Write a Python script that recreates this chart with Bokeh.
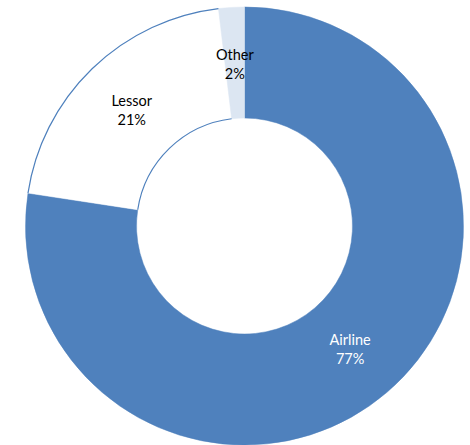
import math
from bokeh.plotting import figure
from bokeh.models import Range1d, ColumnDataSource
from bokeh.core.properties import value
from bokeh.embed import file_html
from bokeh.resources import INLINE

categories = ["Airline", "Lessor", "Other"]
shares = [77.4, 20.7, 1.9]
fill_colors = ["#4F81BD", "#FFFFFF", "#DCE6F2"]
text_colors = ["#FFFFFF", "#000000", "#000000"]

W, H = 470, 445
p = figure(width=W, height=H, output_backend="svg", toolbar_location=None,
           x_range=Range1d(0, W), y_range=Range1d(-H, 0),
           min_border=0, match_aspect=False)
p.axis.visible = False
p.grid.visible = False
p.outline_line_color = None
p.background_fill_color = "white"
p.border_fill_color = "white"

cx, cy = 244, -225.5
r_out, r_in = 219, 108

total = sum(shares)
starts, ends, mids = [], [], []
acc = 0.0
for s in shares:
    a0 = math.pi / 2 - 2 * math.pi * acc / total
    acc += s
    a1 = math.pi / 2 - 2 * math.pi * acc / total
    starts.append(a0)
    ends.append(a1)
    mids.append((a0 + a1) / 2)

src = ColumnDataSource(dict(start=starts, end=ends, color=fill_colors))
p.annular_wedge(x=cx, y=cy, inner_radius=r_in, outer_radius=r_out,
                start_angle="start", end_angle="end", direction="clock",
                fill_color="color", line_color="color", line_width=0.5, source=src)

# blue outline on the Lessor slice arcs
i = 1
for rr in (r_out, r_in):
    p.arc(x=cx, y=cy, radius=rr, start_angle=starts[i], end_angle=ends[i],
          direction="clock", line_color="#4F81BD", line_width=1.2)

r_lab = 162
lx = [cx + r_lab * math.cos(m) for m in mids]
ly = [cy + r_lab * math.sin(m) for m in mids]
names = categories
pcts = [f"{round(100 * s / total)}%" for s in shares]
lsrc = ColumnDataSource(dict(x=lx, y1=[y + 9.5 for y in ly], y2=[y - 9.5 for y in ly],
                             n=names, pc=pcts, c=text_colors))
common = dict(text_align="center", text_baseline="middle",
              text_font=value("Lato"), text_font_size="14.5px", text_color="c", source=lsrc)
p.text(x="x", y="y1", text="n", **common)
p.text(x="x", y="y2", text="pc", **common)

open("out.html", "w").write(file_html(p, INLINE))
